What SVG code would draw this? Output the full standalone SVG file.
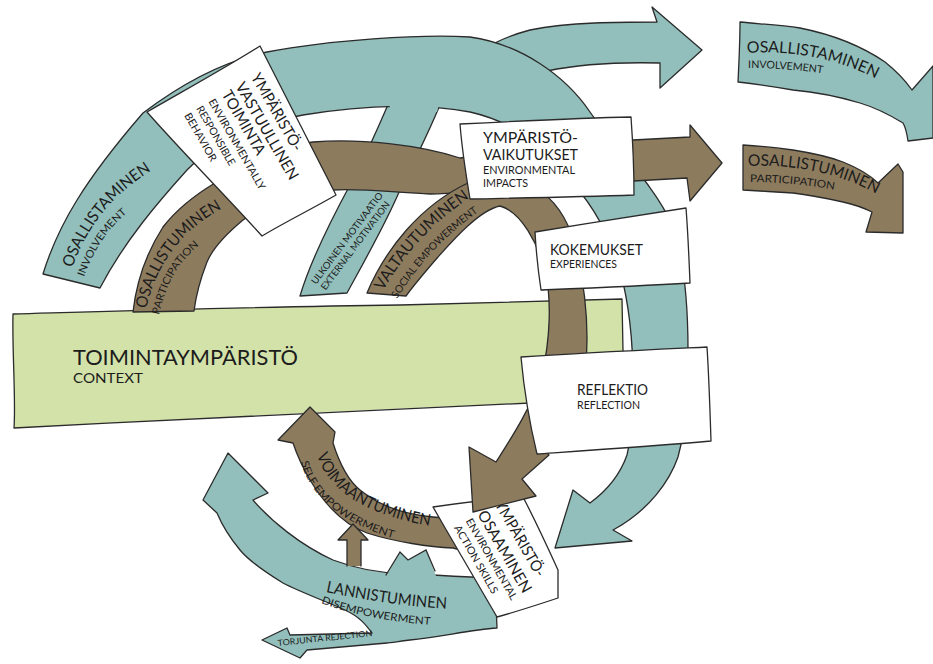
<svg xmlns="http://www.w3.org/2000/svg" width="933" height="664" viewBox="0 0 933 664">
<style>
.t{fill:#92bfbb}
.b{fill:#8d7b5e}
.g{fill:#d3e2a9}
.w{fill:#ffffff}
.o{stroke:#2b2b2b;stroke-width:1.3;stroke-linejoin:round;stroke-linecap:round}
.n{stroke:none}
.ln{fill:none;stroke:#2b2b2b;stroke-width:1.3;stroke-linecap:round}
text{font-family:Lato,"Open Sans","DejaVu Sans",sans-serif;fill:#1c1c1c}
.xs{font-size:10.5px}
</style>
<defs>
<path id="pOsaR" d="M747,53 C790,50 840,58 882,82"/>
<path id="pInvR" d="M748,68 C775,68 800,70 826,74"/>
<path id="pOsuR" d="M748,166 C790,164 840,172 880,196"/>
<path id="pParR" d="M750,182 C780,182 810,185 842,191"/>
<path id="pOsaL" d="M72,268 C87,228 109,198 149,172"/>
<path id="pInvL" d="M84,277 C93,253 105,231 127,213"/>
<path id="pOsuL" d="M146,309 C157,262 184,228 225,207"/>
<path id="pParL" d="M159,315 C167,281 179,261 201,244"/>
<path id="pVal" d="M383,291 Q415,235 468,199"/>
<path id="pSoc" d="M397,299 Q429,246 481,210"/>
<path id="pVoi" d="M317,455 C328,489 363,517 444,528"/>
<path id="pSelf" d="M301,462 C310,497 345,528 412,543"/>
<path id="pLan" d="M326,592 C360,599 400,606 449,609"/>
<path id="pDis" d="M321,603 C350,614 390,622 433,625"/>
</defs>

<!-- context bar -->
<g id="context">
<path class="g o" d="M13,314 C120,311 250,307 400,305 C480,303 560,300 622,299 L624,402 C590,402 560,402 530,403 C400,408 200,418 14,428 C16,400 12,350 13,314 Z"/>
<text x="73" y="365" font-size="21" textLength="225" lengthAdjust="spacingAndGlyphs">TOIMINTAYMPÄRISTÖ</text>
<text x="73" y="383" font-size="12.5" textLength="70" lengthAdjust="spacingAndGlyphs">CONTEXT</text>
</g>

<g id="connectors">
<g id="ulkoinen">
<path class="t o" d="M300,296 C310,262 330,222 350,185 C365,158 378,128 390,100 L442,100 C430,130 415,160 400,190 C385,225 365,260 347,293 Z"/>
</g>
<path id="top-arrow" class="t o" d="M470,62 C480,50 500,38 530,30 C570,22 620,22 657,22 L652,7 L702,50 L660,88 L660,63 C620,62 580,64 547,71 C520,76 490,72 470,66 Z"/>
<g id="osallistaminen-band">
<path class="t o" d="M43,274 C58,225 85,180 143,113 C180,85 220,62 267,52 C330,40 420,34 470,37 C520,44 565,75 590,112 C615,148 655,185 672,225 C683,255 688,300 688,350 C690,400 685,430 678,457 C670,480 650,510 613,530 L632,541 L555,548 L573,490 L590,503 C605,492 620,475 627,455 C633,430 634,400 633,380 C633,340 628,300 620,270 C608,230 590,200 565,175 C545,148 515,122 470,112 C430,104 370,104 303,115 C250,125 210,145 187,170 C160,200 125,240 100,288 Z"/>
<path class="t n" d="M391,96 L441,96 L437,112 L389,112 Z"/>
<text font-size="16"><textPath href="#pOsaL" textLength="128" lengthAdjust="spacingAndGlyphs">OSALLISTAMINEN</textPath></text>
<text class="xs"><textPath href="#pInvL" textLength="78" lengthAdjust="spacingAndGlyphs">INVOLVEMENT</textPath></text>
</g>
<g id="ulkoinen-text" transform="translate(316,285) rotate(-53)">
<text x="0" y="0" font-size="9.5" textLength="112" lengthAdjust="spacingAndGlyphs">ULKOINEN MOTIVAATIO</text>
<text x="1" y="11" font-size="9.5" textLength="108" lengthAdjust="spacingAndGlyphs">EXTERNAL MOTIVATION</text>
</g>
<g id="osallistuminen-band">
<path class="b o" d="M133,312 C136,285 145,255 163,227 C180,205 200,192 215,183 C245,160 280,145 313,142 C360,138 420,145 460,158 C520,150 590,142 633,140 L690,137 L690,125 L722,163 L690,201 L687,178 L633,181 C570,184 500,192 430,194 C400,193 360,188 333,190 C295,194 265,205 243,220 C225,235 212,250 207,262 C200,280 196,295 194,311 Z"/>
<text font-size="16"><textPath href="#pOsuL" textLength="130" lengthAdjust="spacingAndGlyphs">OSALLISTUMINEN</textPath></text>
<text class="xs"><textPath href="#pParL" textLength="82" lengthAdjust="spacingAndGlyphs">PARTICIPATION</textPath></text>
</g>
<g id="lannistuminen">
<path class="t o" d="M228,453 L268,493 L253,500 C270,520 300,545 333,560 C360,570 380,573 400,573 C430,575 460,577 495,578 L497,628 C470,630 440,637 410,640 C395,642 390,643 387,643 L307,650 L300,658 L262,640 L287,628 L290,635 L372,633 C366,625 360,617 345,610 C330,603 300,592 283,583 C265,572 250,562 240,550 C230,538 222,525 217,513 L203,500 Z"/>
<text font-size="16"><textPath href="#pLan" textLength="122" lengthAdjust="spacingAndGlyphs">LANNISTUMINEN</textPath></text>
<text class="xs"><textPath href="#pDis" textLength="112" lengthAdjust="spacingAndGlyphs">DISEMPOWERMENT</textPath></text>
<text transform="translate(278,646) rotate(-6)" font-size="8.5" textLength="95" lengthAdjust="spacingAndGlyphs">TORJUNTA REJECTION</text>
</g>
<g id="voimaantuminen">
<path class="b o" d="M310,407 L335,432 L333,443 C340,465 350,482 360,490 C378,505 400,514 433,517 L470,520 L468,552 L453,548 C430,547 395,542 367,533 C345,525 325,505 310,480 C303,468 297,455 293,443 L278,440 Z"/>
<text font-size="16"><textPath href="#pVoi" textLength="140" lengthAdjust="spacingAndGlyphs">VOIMAANTUMINEN</textPath></text>
<text class="xs"><textPath href="#pSelf" textLength="125" lengthAdjust="spacingAndGlyphs">SELF EMPOWERMENT</textPath></text>
</g>
<path id="up-arrow" class="b o" d="M347,566 L347,540 L338,540 L353,524 L368,540 L361,540 L361,566"/>
<g id="small-teal-arrow">
<path class="t n" d="M386,576 L400,552 L408,560 L426,550 L436,576 Z"/>
<path class="ln" d="M386,575 L400,552 L408,560 L426,550 L435,571"/>
</g>
</g>

<g id="osaaminen">
<path class="w o" d="M433,507 C460,503 495,499 523,497 C535,520 548,548 558,570 L558,598 C540,604 515,612 497,617 C478,585 455,545 433,507 Z"/>
<g transform="rotate(60)">
<text x="684" y="-176" font-size="15.5" textLength="85" lengthAdjust="spacingAndGlyphs">YMPÄRISTÖ-</text>
<text x="684" y="-156" font-size="15.5" textLength="92" lengthAdjust="spacingAndGlyphs">OSAAMINEN</text>
<text x="684" y="-142.5" font-size="10.5" textLength="92" lengthAdjust="spacingAndGlyphs">ENVIRONMENTAL</text>
<text x="684" y="-129" font-size="10.5" textLength="77" lengthAdjust="spacingAndGlyphs">ACTION SKILLS</text>
</g>
</g>

<g id="valtautuminen">
<path class="b o" d="M367,293 C385,250 420,205 470,182 C515,165 560,190 575,245 C585,285 590,330 585,375 C580,410 563,435 546,452 L549,455 L522,479 L536,496 L473,512 L469,447 L496,462 C510,440 530,410 542,375 C550,340 552,300 545,270 C538,245 522,212 500,206 C480,210 455,238 438,257 C425,272 414,285 406,296 Z"/>
<text font-size="16"><textPath href="#pVal" textLength="128" lengthAdjust="spacingAndGlyphs">VALTAUTUMINEN</textPath></text>
<text class="xs"><textPath href="#pSoc" textLength="120" lengthAdjust="spacingAndGlyphs">SOCIAL EMPOWERMENT</textPath></text>
</g>

<g id="vastuullinen">
<path class="w o" d="M147,112 C185,90 225,68 260,46 C285,95 310,145 336,195 C310,210 285,222 262,236 C225,195 185,155 147,112 Z"/>
<g transform="rotate(60)">
<text x="192" y="-178.5" font-size="15.5" textLength="87" lengthAdjust="spacingAndGlyphs">YMPÄRISTÖ-</text>
<text x="192" y="-160.5" font-size="15.5" textLength="110" lengthAdjust="spacingAndGlyphs">VASTUULLINEN</text>
<text x="192" y="-144.5" font-size="15.5" textLength="72" lengthAdjust="spacingAndGlyphs">TOIMINTA</text>
<text x="192" y="-129.5" font-size="10.5" textLength="103" lengthAdjust="spacingAndGlyphs">ENVIRONMENTALLY</text>
<text x="192" y="-115.5" font-size="10.5" textLength="67" lengthAdjust="spacingAndGlyphs">RESPONSIBLE</text>
<text x="192" y="-101.5" font-size="10.5" textLength="54" lengthAdjust="spacingAndGlyphs">BEHAVIOR</text>
</g>
</g>

<g id="vaikutukset">
<path class="w o" d="M460,124 C520,121 580,118 631,117 C633,145 634,170 634,195 C580,197 520,198 470,199 C466,175 462,150 460,124 Z"/>
<text x="483" y="143" font-size="15.5" textLength="95" lengthAdjust="spacingAndGlyphs">YMPÄRISTÖ-</text>
<text x="483" y="160" font-size="15.5" textLength="95" lengthAdjust="spacingAndGlyphs">VAIKUTUKSET</text>
<text x="483" y="173.5" font-size="11" textLength="92" lengthAdjust="spacingAndGlyphs">ENVIRONMENTAL</text>
<text x="483" y="187" font-size="11" textLength="45" lengthAdjust="spacingAndGlyphs">IMPACTS</text>
</g>

<g id="kokemukset">
<path class="w o" d="M535,232 C585,224 640,215 686,208 C688,233 689,258 690,283 C640,286 590,288 541,290 C538,270 536,250 535,232 Z"/>
<text x="550" y="255" font-size="16" textLength="93" lengthAdjust="spacingAndGlyphs">KOKEMUKSET</text>
<text x="550" y="268" font-size="10.5" textLength="67" lengthAdjust="spacingAndGlyphs">EXPERIENCES</text>
</g>

<g id="reflektio">
<path class="w o" d="M521,357 C580,353 645,350 707,347 C709,378 710,410 711,441 C655,446 595,450 537,454 C530,425 524,390 521,357 Z"/>
<text x="577" y="395" font-size="16" textLength="71" lengthAdjust="spacingAndGlyphs">REFLEKTIO</text>
<text x="577" y="409" font-size="10.5" textLength="63" lengthAdjust="spacingAndGlyphs">REFLECTION</text>
</g>

<g id="osallistaminen-right">
<path class="t o" d="M740,22 C760,24 780,25 800,28 C830,34 860,45 885,62 C895,70 905,80 912,90 L933,66 L933,138 L908,141 C907,134 906,128 903,123 C885,112 870,106 860,103 C840,97 815,92 793,90 C775,87 755,84 738,82 C739,62 740,42 740,22 Z"/>
<text font-size="16"><textPath href="#pOsaR" textLength="133" lengthAdjust="spacingAndGlyphs">OSALLISTAMINEN</textPath></text>
<text font-size="10.5"><textPath href="#pInvR" textLength="75" lengthAdjust="spacingAndGlyphs">INVOLVEMENT</textPath></text>
</g>
<g id="osallistuminen-right">
<path class="b o" d="M743,145 C760,146 778,148 793,150 C812,153 830,157 843,162 C858,168 870,175 878,183 L898,164 L903,172 L903,233 L866,232 L872,212 C862,207 852,204 843,202 C825,198 810,195 793,193 C776,192 760,191 743,190 C743,175 743,160 743,145 Z"/>
<text font-size="16"><textPath href="#pOsuR" textLength="133" lengthAdjust="spacingAndGlyphs">OSALLISTUMINEN</textPath></text>
<text font-size="10.5"><textPath href="#pParR" textLength="85" lengthAdjust="spacingAndGlyphs">PARTICIPATION</textPath></text>
</g>
</svg>
